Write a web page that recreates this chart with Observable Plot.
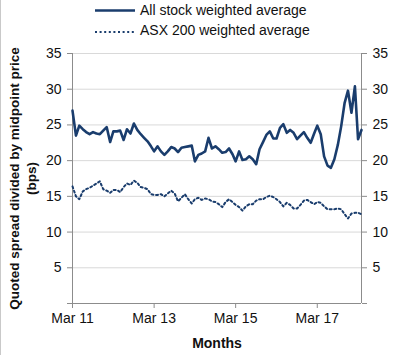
<!DOCTYPE html>
<html>
<head>
<meta charset="utf-8">
<script src="https://cdn.jsdelivr.net/npm/d3@7"></script>
<script src="https://cdn.jsdelivr.net/npm/@observablehq/plot@0.6"></script>
<style>
  html, body { margin: 0; padding: 0; background: #fff; }
  #wrap { position: relative; width: 399px; height: 355px; border-left: 1px solid #c9c9c9; overflow: hidden; font-family: "Liberation Sans", Arial, sans-serif; }
  #legend { display: block; }
  #chart svg { display: block; }
</style>
</head>
<body>
<div id="wrap">
  <div id="legend"></div>
  <div id="chart"></div>
</div>
<script>
// ---- Data ----
const startMonth = "2011-03-01";   // first category (Mar 11), monthly
const seriesNames = ["All stock weighted average", "ASX 200 weighted average"];
const allStock = [
  27.0, 23.5, 24.9, 24.4, 24.0, 23.7, 24.0, 23.8, 23.7, 24.2,
  24.7, 22.6, 24.1, 24.1, 24.2, 22.9, 24.4, 23.8, 25.2, 24.3,
  23.7, 23.2, 22.7, 22.0, 21.3, 22.0, 21.3, 20.8, 21.3, 21.9,
  21.7, 21.2, 21.8, 21.9, 22.0, 22.1, 19.9, 20.8, 21.0, 21.3,
  23.2, 21.7, 22.0, 21.6, 21.1, 21.2, 21.7, 20.9, 19.9, 21.3,
  20.1, 20.2, 20.6, 20.2, 19.5, 21.6, 22.6, 23.6, 24.1, 23.1,
  23.1, 24.6, 25.1, 23.9, 24.3, 23.9, 23.0, 23.5, 24.0, 23.2,
  22.5, 23.8, 24.9, 23.7, 20.6, 19.3, 19.0, 20.2, 22.2, 24.8,
  28.1, 29.8, 26.7, 30.4, 23.0, 24.3
];
const asx200 = [
  16.4, 15.0, 14.6, 15.7, 16.0, 16.2, 16.5, 16.8, 17.1, 16.0,
  15.8, 15.5, 15.9, 15.9, 15.6, 16.3, 16.8, 16.6, 17.2, 16.9,
  16.3, 16.2, 16.0, 15.3, 15.2, 15.2, 15.3, 15.0, 15.4, 15.8,
  15.4, 14.3, 14.8, 15.3, 14.6, 14.0, 14.6, 14.8, 14.5, 14.7,
  14.6, 14.3, 14.2, 13.9, 13.5, 14.2, 14.6, 14.2, 13.8, 13.5,
  13.0, 13.6, 13.9, 13.9, 14.4, 14.6, 14.6, 14.9, 15.1, 14.9,
  14.6, 14.2, 13.6, 14.1, 13.8, 13.3, 13.3, 13.8, 14.4, 14.5,
  14.2, 13.9, 14.2, 14.1, 13.6, 13.2, 13.2, 13.2, 13.3, 13.2,
  12.5, 11.9, 12.6, 12.7, 12.7, 12.5
];
const xTickMonths = ["2011-03-01", "2013-03-01", "2015-03-01", "2017-03-01"];
const xTickLabels = ["Mar 11", "Mar 13", "Mar 15", "Mar 17"];
const yTicks = [0, 5, 10, 15, 20, 25, 30, 35];
const yTickLabels = ["", "5", "10", "15", "20", "25", "30", "35"];
const yTitle = "Quoted spread divided by midpoint price\n(bps)";
const xTitle = "Months";

// ---- Build table ----
const start = new Date(startMonth + "T00:00:00Z");
const rows = [];
allStock.forEach((v, i) => rows.push({date: d3.utcMonth.offset(start, i), value: v, series: seriesNames[0]}));
asx200.forEach((v, i) => rows.push({date: d3.utcMonth.offset(start, i), value: v, series: seriesNames[1]}));
const xDomain = d3.extent(rows, d => d.date);
const xTicks = xTickMonths.map(s => new Date(s + "T00:00:00Z"));
const xLabelMap = new Map(xTicks.map((d, i) => [+d, xTickLabels[i]]));
const yLabelMap = new Map(yTicks.map((d, i) => [d, yTickLabels[i]]));

const navy = "#1a3d6d";
const axisGray = "#8c8c8c";
const gridGray = "#d9d9d9";
const font = "'Liberation Sans', Arial, sans-serif";
const dotDash = "2,2.6";

// ---- Legend ----
const legend = d3.select("#legend").append("svg")
  .attr("width", 399).attr("height", 40)
  .style("font-family", font).style("font-size", "14px");
const legendItems = [
  {name: seriesNames[0], dash: null, width: 2.6, y: 10.5, ty: 15},
  {name: seriesNames[1], dash: dotDash, width: 2, y: 32, ty: 35}
];
legendItems.forEach(it => {
  legend.append("line").attr("x1", 94).attr("x2", 134).attr("y1", it.y).attr("y2", it.y)
    .attr("stroke", navy).attr("stroke-width", it.width)
    .attr("stroke-dasharray", it.dash);
  legend.append("text").attr("x", 139).attr("y", it.ty).attr("fill", "#111").text(it.name);
});

// ---- Plot ----
const chart = Plot.plot({
  width: 399,
  height: 315,
  marginLeft: 71,
  marginRight: 39,
  marginTop: 9,
  marginBottom: 56,
  style: {fontFamily: font, fontSize: "14px", color: "#111", background: "#fff"},
  x: {type: "utc", domain: xDomain},
  y: {domain: [0, 35]},
  marks: [
    Plot.gridY(yTicks.filter(d => d > 0), {stroke: gridGray, strokeOpacity: 1, strokeWidth: 1}),
    Plot.ruleY([0], {stroke: axisGray}),
    Plot.ruleX(xDomain, {stroke: axisGray}),
    Plot.axisY(yTicks, {anchor: "left", tickSize: 5, tickPadding: 6, stroke: axisGray, tickFormat: d => yLabelMap.get(d), label: null, fill: "#111"}),
    Plot.axisY(yTicks, {anchor: "right", tickSize: 5, tickPadding: 6, stroke: axisGray, tickFormat: d => yLabelMap.get(d), label: null, fill: "#111"}),
    Plot.axisX(xTicks, {anchor: "bottom", tickSize: 5, tickPadding: 5, stroke: axisGray, tickFormat: d => xLabelMap.get(+d), label: null, fill: "#111"}),
    Plot.line(rows.filter(d => d.series === seriesNames[1]), {x: "date", y: "value", stroke: navy, strokeWidth: 2, strokeDasharray: dotDash, strokeLinejoin: "round"}),
    Plot.line(rows.filter(d => d.series === seriesNames[0]), {x: "date", y: "value", stroke: navy, strokeWidth: 2.6, strokeLinejoin: "round"}),
    Plot.text([xTitle], {frameAnchor: "bottom", dy: 44, text: d => d, fontWeight: "bold", fontSize: 14, fill: "#111"}),
    Plot.text([yTitle], {frameAnchor: "left", dx: -50, rotate: -90, textAnchor: "middle", lineAnchor: "middle", text: d => d, fontWeight: "bold", fontSize: 13.5, lineHeight: 1.25, fill: "#111"})
  ]
});
document.getElementById("chart").appendChild(chart);
</script>
</body>
</html>
